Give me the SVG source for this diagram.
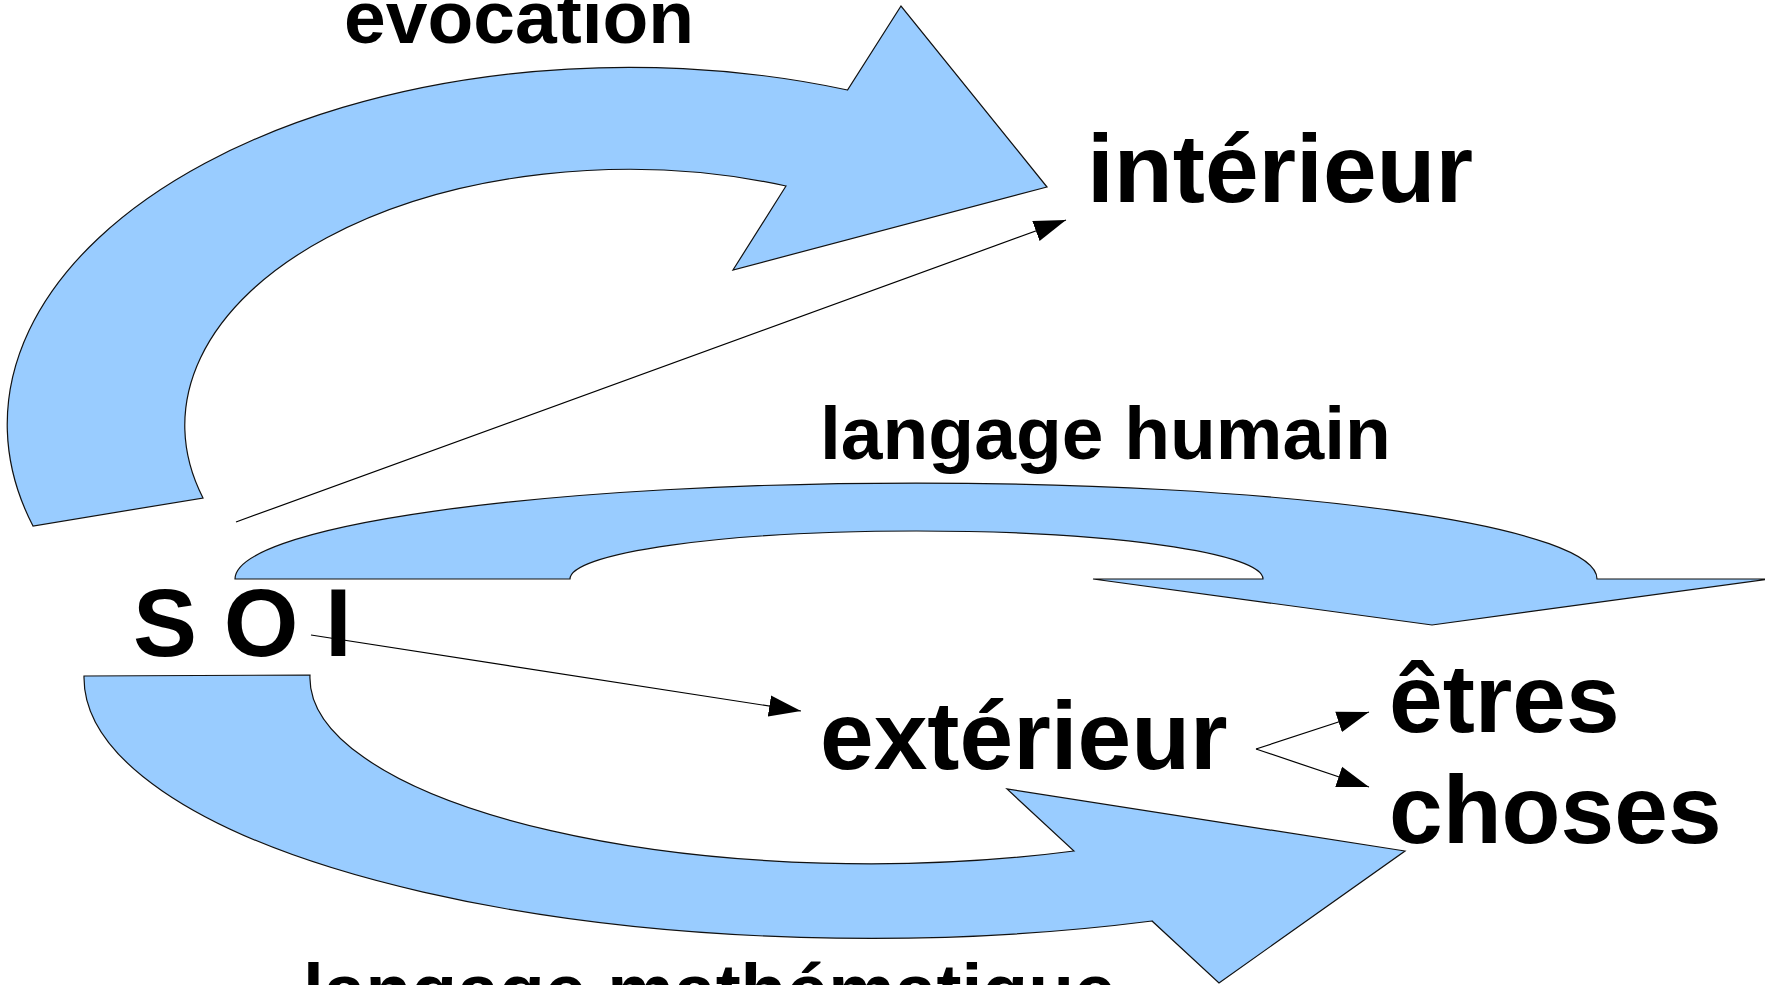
<svg xmlns="http://www.w3.org/2000/svg" width="1765" height="985" viewBox="0 0 1765 985">
<style>
.shape{fill:#99ccff;stroke:#111;stroke-width:1.2;stroke-linejoin:miter}
.lbl{font-family:"Liberation Sans",Arial,sans-serif;font-weight:bold;fill:#000}
.s74{font-size:75px}
.s95{font-size:96.5px}
.con{stroke:#000;stroke-width:1.2;fill:none;marker-end:url(#ah)}
</style>
<defs>
<marker id="ah" markerUnits="userSpaceOnUse" markerWidth="32" markerHeight="22" viewBox="0 0 30 20" refX="30" refY="10" orient="auto">
<path d="M0,0 L30,10 L0,20 Z" fill="#000"/>
</marker>
</defs>
<rect width="1765" height="985" fill="#fff"/>
<g id="arrow-evocation">
<path class="shape" d="M33,526 A622 357 0 0 1 847.5,90 L901,6 L1047,187 L733,270 L786,186 A444 256 0 0 0 203,498 Z"/>
</g>
<g id="arrow-langage-humain">
<path class="shape" d="M235,579 A681 96 0 0 1 1597,579 L1769,579 L1432,625 L1093,579 L1263,579 A346.5 48 0 0 0 570,579 Z"/>
</g>
<g id="arrow-langage-mathematique">
<path class="shape" d="M84,676 A786 261 0 0 0 1152,921 L1219,983 L1405,851 L1007,789 L1074,851 A560 186 0 0 1 310,675 Z"/>
</g>
<g id="connectors">
<line class="con" x1="236" y1="522" x2="1066" y2="220"/>
<line class="con" x1="311" y1="635" x2="801" y2="711"/>
<line class="con" x1="1256" y1="749" x2="1369" y2="712"/>
<line class="con" x1="1256" y1="749" x2="1369" y2="787"/>
</g>
<g id="label-evocation"><text class="lbl s74" x="344" y="43">evocation</text></g>
<g id="node-interieur"><text class="lbl s95" x="1087" y="202">intérieur</text></g>
<g id="label-langage-humain"><text class="lbl s74" x="820" y="459">langage humain</text></g>
<g id="node-soi"><text class="lbl" font-size="96" x="133" y="656">S O I</text></g>
<g id="node-exterieur"><text class="lbl s95" x="820" y="769">extérieur</text></g>
<g id="node-etres"><text class="lbl s95" x="1389" y="732">êtres</text></g>
<g id="node-choses"><text class="lbl s95" x="1389" y="843">choses</text></g>
<g id="label-langage-mathematique"><text class="lbl s74" x="303" y="1016">langage mathématique</text></g>
</svg>
